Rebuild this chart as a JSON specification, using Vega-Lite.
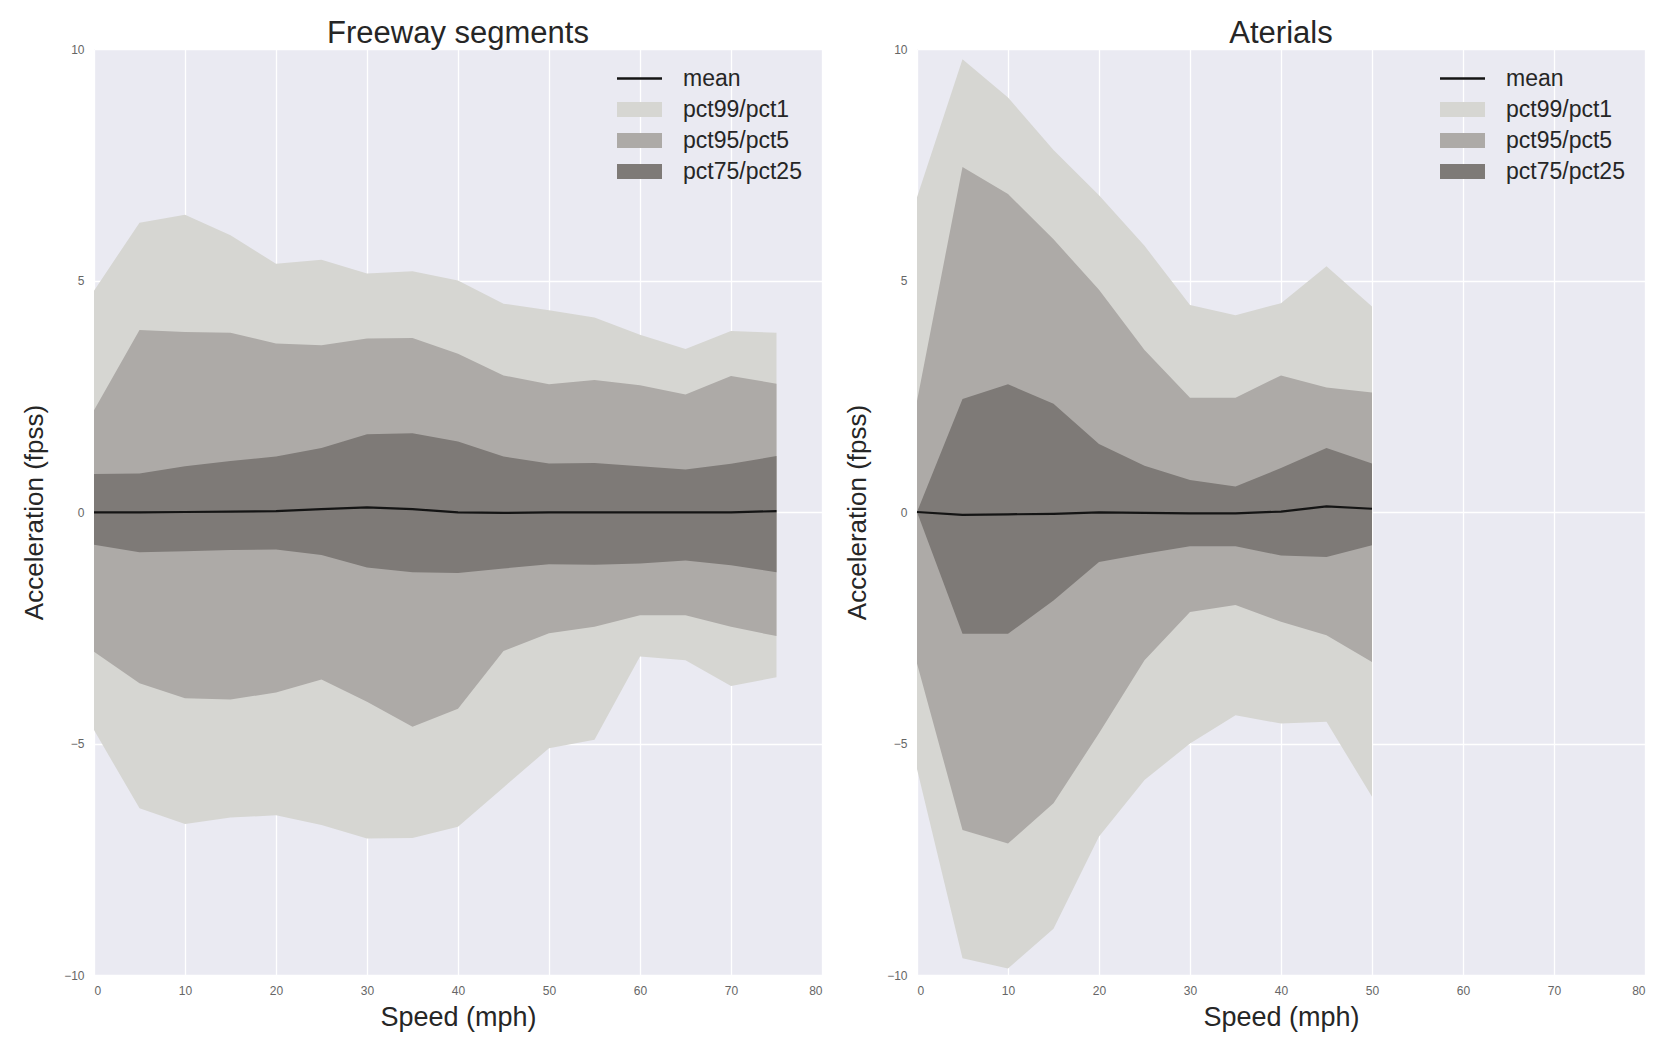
{
  "$schema": "https://vega.github.io/schema/vega-lite/v6.json",
  "background": "white",
  "padding": {"left": 21, "top": 18, "right": 5, "bottom": 5},
  "datasets": {
    "freeway": [
      {"speed": 0, "p99": 4.78, "p95": 2.2, "p75": 0.82, "mean": -0.01, "p25": -0.71, "p5": -3.02, "p1": -4.71},
      {"speed": 5, "p99": 6.25, "p95": 3.93, "p75": 0.83, "mean": -0.01, "p25": -0.87, "p5": -3.7, "p1": -6.4},
      {"speed": 10, "p99": 6.42, "p95": 3.89, "p75": 0.99, "mean": 0.0, "p25": -0.85, "p5": -4.02, "p1": -6.74},
      {"speed": 15, "p99": 5.98, "p95": 3.87, "p75": 1.1, "mean": 0.01, "p25": -0.82, "p5": -4.05, "p1": -6.6},
      {"speed": 20, "p99": 5.36, "p95": 3.64, "p75": 1.2, "mean": 0.02, "p25": -0.81, "p5": -3.9, "p1": -6.55},
      {"speed": 25, "p99": 5.45, "p95": 3.6, "p75": 1.38, "mean": 0.06, "p25": -0.93, "p5": -3.62, "p1": -6.76},
      {"speed": 30, "p99": 5.15, "p95": 3.75, "p75": 1.68, "mean": 0.1, "p25": -1.2, "p5": -4.1, "p1": -7.05},
      {"speed": 35, "p99": 5.2, "p95": 3.76, "p75": 1.7, "mean": 0.06, "p25": -1.3, "p5": -4.64, "p1": -7.04},
      {"speed": 40, "p99": 5.0, "p95": 3.42, "p75": 1.52, "mean": -0.01, "p25": -1.32, "p5": -4.25, "p1": -6.8},
      {"speed": 45, "p99": 4.5, "p95": 2.95, "p75": 1.2, "mean": -0.02, "p25": -1.22, "p5": -3.0, "p1": -5.95},
      {"speed": 50, "p99": 4.36, "p95": 2.76, "p75": 1.05, "mean": -0.01, "p25": -1.13, "p5": -2.62, "p1": -5.1},
      {"speed": 55, "p99": 4.2, "p95": 2.85, "p75": 1.06, "mean": -0.01, "p25": -1.14, "p5": -2.48, "p1": -4.92},
      {"speed": 60, "p99": 3.83, "p95": 2.74, "p75": 0.99, "mean": -0.01, "p25": -1.11, "p5": -2.23, "p1": -3.12},
      {"speed": 65, "p99": 3.52, "p95": 2.54, "p75": 0.92, "mean": -0.01, "p25": -1.05, "p5": -2.23, "p1": -3.2},
      {"speed": 70, "p99": 3.91, "p95": 2.94, "p75": 1.04, "mean": -0.01, "p25": -1.15, "p5": -2.48, "p1": -3.76},
      {"speed": 75, "p99": 3.87, "p95": 2.77, "p75": 1.21, "mean": 0.02, "p25": -1.3, "p5": -2.68, "p1": -3.57}
    ],
    "arterial": [
      {"speed": 0, "p99": 6.8, "p95": 2.4, "p75": 0.0, "mean": 0.0, "p25": 0.0, "p5": -3.27, "p1": -5.55},
      {"speed": 5, "p99": 9.78, "p95": 7.45, "p75": 2.44, "mean": -0.06, "p25": -2.63, "p5": -6.87, "p1": -9.64},
      {"speed": 10, "p99": 8.95, "p95": 6.87, "p75": 2.76, "mean": -0.05, "p25": -2.63, "p5": -7.16, "p1": -9.86},
      {"speed": 15, "p99": 7.82, "p95": 5.89, "p75": 2.34, "mean": -0.04, "p25": -1.91, "p5": -6.29, "p1": -9.0},
      {"speed": 20, "p99": 6.84, "p95": 4.8, "p75": 1.47, "mean": -0.01, "p25": -1.08, "p5": -4.78, "p1": -7.01},
      {"speed": 25, "p99": 5.75, "p95": 3.5, "p75": 1.0, "mean": -0.02, "p25": -0.9, "p5": -3.2, "p1": -5.79},
      {"speed": 30, "p99": 4.47, "p95": 2.47, "p75": 0.69, "mean": -0.03, "p25": -0.74, "p5": -2.16, "p1": -5.0},
      {"speed": 35, "p99": 4.25, "p95": 2.47, "p75": 0.55, "mean": -0.03, "p25": -0.74, "p5": -2.01, "p1": -4.39},
      {"speed": 40, "p99": 4.51, "p95": 2.95, "p75": 0.95, "mean": 0.01, "p25": -0.94, "p5": -2.37, "p1": -4.57},
      {"speed": 45, "p99": 5.31, "p95": 2.69, "p75": 1.38, "mean": 0.12, "p25": -0.97, "p5": -2.66, "p1": -4.53},
      {"speed": 50, "p99": 4.44, "p95": 2.58, "p75": 1.05, "mean": 0.07, "p25": -0.72, "p5": -3.24, "p1": -6.15}
    ]
  },
  "config": {
    "font": "Liberation Sans",
    "view": {"fill": "#EAEAF2", "stroke": null},
    "axis": {
      "grid": true, "gridColor": "#FFFFFF", "gridWidth": 1.3, "domain": false, "ticks": false,
      "labelFontSize": 12, "labelColor": "#666666", "labelPadding": 10,
      "titleFontSize": 26, "titleFontWeight": "normal", "titleColor": "#262626"
    },
    "title": {"fontSize": 31, "fontWeight": "normal", "color": "#262626", "offset": -7},
    "legend": {
      "orient": "none", "title": null, "labelFontSize": 23, "labelColor": "#262626",
      "labelOffset": 32, "rowPadding": 7, "padding": 0
    },
    "concat": {"spacing": 22}
  },
  "resolve": {"scale": {"fill": "independent", "stroke": "independent"}},
  "hconcat": [
    {
      "title": "Freeway segments",
      "width": 728, "height": 926,
      "data": {"name": "freeway"},
      "encoding": {
        "x": {"field": "speed", "type": "quantitative", "title": "Speed (mph)",
              "scale": {"domain": [0, 80], "nice": false},
              "axis": {"values": [0, 10, 20, 30, 40, 50, 60, 70, 80], "titlePadding": 8, "titleFontSize": 27}}
      },
      "layer": [
        {"mark": {"type": "area"},
         "encoding": {
           "y": {"field": "p99", "type": "quantitative", "title": "Acceleration (fpss)",
                 "scale": {"domain": [-10, 10], "nice": false},
                 "axis": {"values": [-10, -5, 0, 5, 10], "titlePadding": 16}},
           "y2": {"field": "p1"},
           "fill": {"datum": "pct99/pct1", "type": "nominal",
                    "scale": {"domain": ["pct99/pct1", "pct95/pct5", "pct75/pct25"], "range": ["#D6D6D2", "#ADAAA7", "#7E7A77"]},
                    "legend": {"legendX": 534, "legendY": 49, "symbolType": "M-3,-1H3V1H-3Z", "symbolSize": 225, "symbolStrokeWidth": 0}}
         }},
        {"mark": {"type": "area"},
         "encoding": {"y": {"field": "p95", "type": "quantitative"}, "y2": {"field": "p5"}, "fill": {"datum": "pct95/pct5", "type": "nominal"}}},
        {"mark": {"type": "area"},
         "encoding": {"y": {"field": "p75", "type": "quantitative"}, "y2": {"field": "p25"}, "fill": {"datum": "pct75/pct25", "type": "nominal"}}},
        {"mark": {"type": "line", "strokeWidth": 2.2},
         "encoding": {"y": {"field": "mean", "type": "quantitative"},
                      "stroke": {"datum": "mean", "type": "nominal", "scale": {"domain": ["mean"], "range": ["#141414"]},
                                 "legend": {"legendX": 534, "legendY": 18, "symbolType": "M-3,0H3", "symbolSize": 225, "symbolStrokeWidth": 2.5}}}}
      ]
    },
    {
      "title": "Aterials",
      "width": 728, "height": 926,
      "data": {"name": "arterial"},
      "encoding": {
        "x": {"field": "speed", "type": "quantitative", "title": "Speed (mph)",
              "scale": {"domain": [0, 80], "nice": false},
              "axis": {"values": [0, 10, 20, 30, 40, 50, 60, 70, 80], "titlePadding": 8, "titleFontSize": 27}}
      },
      "layer": [
        {"mark": {"type": "area"},
         "encoding": {
           "y": {"field": "p99", "type": "quantitative", "title": "Acceleration (fpss)",
                 "scale": {"domain": [-10, 10], "nice": false},
                 "axis": {"values": [-10, -5, 0, 5, 10], "titlePadding": 16}},
           "y2": {"field": "p1"},
           "fill": {"datum": "pct99/pct1", "type": "nominal",
                    "scale": {"domain": ["pct99/pct1", "pct95/pct5", "pct75/pct25"], "range": ["#D6D6D2", "#ADAAA7", "#7E7A77"]},
                    "legend": {"legendX": 534, "legendY": 49, "symbolType": "M-3,-1H3V1H-3Z", "symbolSize": 225, "symbolStrokeWidth": 0}}
         }},
        {"mark": {"type": "area"},
         "encoding": {"y": {"field": "p95", "type": "quantitative"}, "y2": {"field": "p5"}, "fill": {"datum": "pct95/pct5", "type": "nominal"}}},
        {"mark": {"type": "area"},
         "encoding": {"y": {"field": "p75", "type": "quantitative"}, "y2": {"field": "p25"}, "fill": {"datum": "pct75/pct25", "type": "nominal"}}},
        {"mark": {"type": "line", "strokeWidth": 2.2},
         "encoding": {"y": {"field": "mean", "type": "quantitative"},
                      "stroke": {"datum": "mean", "type": "nominal", "scale": {"domain": ["mean"], "range": ["#141414"]},
                                 "legend": {"legendX": 534, "legendY": 18, "symbolType": "M-3,0H3", "symbolSize": 225, "symbolStrokeWidth": 2.5}}}}
      ]
    }
  ]
}
